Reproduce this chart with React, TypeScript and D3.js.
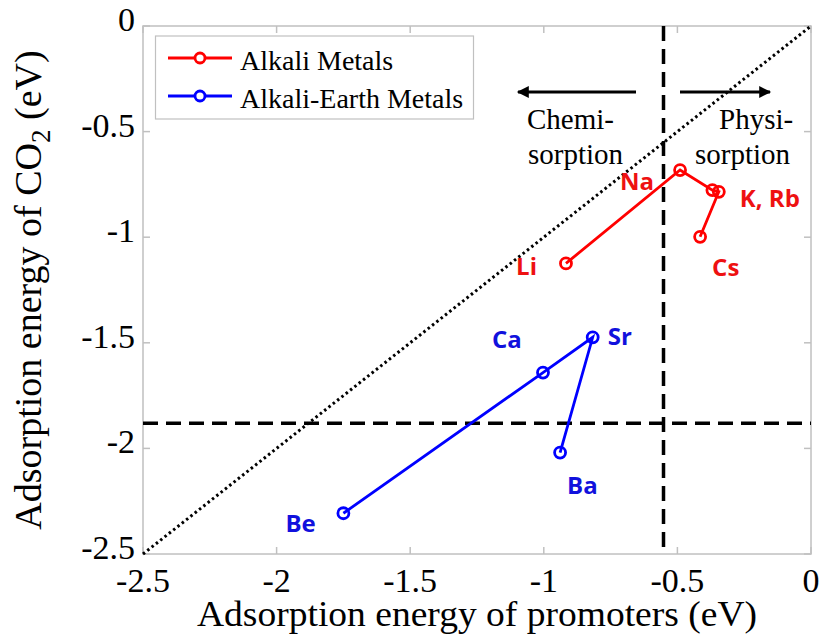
import React from 'react';
import * as d3 from 'd3';

const alkaliNames = ['Li', 'Na', 'K', 'Rb', 'Cs'];
const alkaliX = [-0.917, -0.49, -0.369, -0.345, -0.415];
const alkaliY = [-1.124, -0.682, -0.777, -0.785, -0.998];

const earthNames = ['Be', 'Ca', 'Sr', 'Ba'];
const earthX = [-1.75, -1.003, -0.817, -0.939];
const earthY = [-2.307, -1.641, -1.474, -2.02];

const xTicks = [-2.5, -2, -1.5, -1, -0.5, 0];
const yTicks = [0, -0.5, -1, -1.5, -2, -2.5];

const vLineX = -0.552;
const hLineY = -1.881;

// label text and pixel offsets from each point (empty = shares neighbour's label)
const alkaliLabels = [
  { text: 'Li', dx: -29, dy: 12, anchor: 'end' },
  { text: 'Na', dx: -26, dy: 20, anchor: 'end' },
  { text: '', dx: 0, dy: 0, anchor: 'start' },
  { text: 'K, Rb', dx: 21, dy: 15, anchor: 'start' },
  { text: 'Cs', dx: 12, dy: 39, anchor: 'start' },
];
const earthLabels = [
  { text: 'Be', dx: -58, dy: 19 },
  { text: 'Ca', dx: -51, dy: -25 },
  { text: 'Sr', dx: 15, dy: 8 },
  { text: 'Ba', dx: 7, dy: 41 },
];

const W = 821;
const H = 643;
const left = 143, right = 811, top = 26, bottom = 554;

const RED = '#ff0000';
const BLUE = '#0000ff';
const LRED = '#ee1111';
const LBLUE = '#1111dd';
const serif = '"Liberation Serif", "Times New Roman", serif';
const sans = '"Open Sans", "Liberation Sans", sans-serif';

export default function App() {
  const x = d3.scaleLinear().domain([-2.5, 0]).range([left, right]);
  const y = d3.scaleLinear().domain([-2.5, 0]).range([bottom, top]);

  const line = d3.line<[number, number]>().x(d => x(d[0])).y(d => y(d[1]));
  const alkali: [number, number][] = alkaliX.map((v, i) => [v, alkaliY[i]]);
  const earth: [number, number][] = earthX.map((v, i) => [v, earthY[i]]);

  const axisColor = '#c0c0c0';
  const tickLen = 7;
  const serifStyle = { fontFamily: serif };
  const sansStyle = { fontFamily: sans, fontWeight: 'bold' as const };

  return (
    <div style={{ position: 'absolute', left: 0, top: 0 }}>
      <svg width={W} height={H} style={{ display: 'block', background: '#fff' }}>
        <defs>
          <marker id="arrowHead" viewBox="0 0 10 10" refX="9" refY="5" markerWidth="4.5" markerHeight="4" orient="auto-start-reverse">
            <path d="M0,0 L10,5 L0,10 z" fill="#000" />
          </marker>
        </defs>
        {/* axes box */}
        <rect x={left} y={top} width={right - left} height={bottom - top} fill="none" stroke={axisColor} strokeWidth={1.5} />
        {xTicks.map(t => (
          <g key={'xt' + t}>
            <line x1={x(t)} x2={x(t)} y1={bottom} y2={bottom - tickLen} stroke={axisColor} strokeWidth={1.5} />
            <line x1={x(t)} x2={x(t)} y1={top} y2={top + tickLen} stroke={axisColor} strokeWidth={1.5} />
            <text x={x(t)} y={bottom + 38} textAnchor="middle" style={serifStyle} fontSize={34}>{t}</text>
          </g>
        ))}
        {yTicks.map(t => (
          <g key={'yt' + t}>
            <line x1={left} x2={left + tickLen} y1={y(t)} y2={y(t)} stroke={axisColor} strokeWidth={1.5} />
            <line x1={right} x2={right - tickLen} y1={y(t)} y2={y(t)} stroke={axisColor} strokeWidth={1.5} />
            <text x={left - 8} y={y(t) + 5} textAnchor="end" style={serifStyle} fontSize={34}>{t}</text>
          </g>
        ))}

        {/* reference lines */}
        <line x1={x(-2.5)} y1={y(-2.5)} x2={x(0)} y2={y(0)} stroke="#000" strokeWidth={3} strokeDasharray="2.5 3" />
        <line x1={x(vLineX)} x2={x(vLineX)} y1={top} y2={bottom} stroke="#000" strokeWidth={3.5} strokeDasharray="15 8" />
        <line x1={left} x2={right} y1={y(hLineY)} y2={y(hLineY)} stroke="#000" strokeWidth={3.5} strokeDasharray="15 8" />

        {/* arrows and region labels */}
        <line x1={636} y1={92} x2={518} y2={92} stroke="#000" strokeWidth={3} markerEnd="url(#arrowHead)" />
        <line x1={680} y1={92} x2={770} y2={92} stroke="#000" strokeWidth={3} markerEnd="url(#arrowHead)" />
        <text x={527} y={129} style={serifStyle} fontSize={29}>Chemi-</text>
        <text x={528} y={164} style={serifStyle} fontSize={29}>sorption</text>
        <text x={719} y={129} style={serifStyle} fontSize={29}>Physi-</text>
        <text x={695} y={164} style={serifStyle} fontSize={29}>sorption</text>

        {/* series */}
        <path d={line(alkali) || ''} fill="none" stroke={RED} strokeWidth={2.8} />
        {alkali.map((d, i) => (
          <circle key={'a' + i} cx={x(d[0])} cy={y(d[1])} r={5.5} fill="none" stroke={RED} strokeWidth={2.8} />
        ))}
        <path d={line(earth) || ''} fill="none" stroke={BLUE} strokeWidth={2.8} />
        {earth.map((d, i) => (
          <circle key={'e' + i} cx={x(d[0])} cy={y(d[1])} r={5.5} fill="none" stroke={BLUE} strokeWidth={2.8} />
        ))}

        {/* point labels */}
        {alkali.map((d, i) => alkaliLabels[i].text && (
          <text key={'al' + i} x={x(d[0]) + alkaliLabels[i].dx} y={y(d[1]) + alkaliLabels[i].dy} fill={LRED}
            style={sansStyle} fontSize={24} textAnchor={alkaliLabels[i].anchor}>{alkaliLabels[i].text}</text>
        ))}
        {earth.map((d, i) => (
          <text key={'el' + i} x={x(d[0]) + earthLabels[i].dx} y={y(d[1]) + earthLabels[i].dy} fill={LBLUE}
            style={sansStyle} fontSize={24}>{earthLabels[i].text}</text>
        ))}

        {/* legend */}
        <rect x={155.5} y={36} width={318} height={83} fill="#fff" stroke={axisColor} strokeWidth={1.2} />
        <line x1={168} x2={232} y1={58} y2={58} stroke={RED} strokeWidth={2.8} />
        <circle cx={200} cy={58} r={5} fill="#fff" stroke={RED} strokeWidth={2.8} />
        <text x={240} y={70} style={serifStyle} fontSize={28}>Alkali Metals</text>
        <line x1={168} x2={232} y1={96} y2={96} stroke={BLUE} strokeWidth={2.8} />
        <circle cx={200} cy={96} r={5} fill="#fff" stroke={BLUE} strokeWidth={2.8} />
        <text x={240} y={108} style={serifStyle} fontSize={28}>Alkali-Earth Metals</text>

        {/* axis titles */}
        <text x={477} y={626} textAnchor="middle" style={serifStyle} fontSize={36} textLength={560} lengthAdjust="spacingAndGlyphs">Adsorption energy of promoters (eV)</text>
        <text transform={`translate(41, 290) rotate(-90)`} textAnchor="middle" style={serifStyle} fontSize={38}>
          Adsorption energy of CO<tspan dy={9} fontSize={27}>2</tspan><tspan dy={-9}> (eV)</tspan>
        </text>
      </svg>
    </div>
  );
}
